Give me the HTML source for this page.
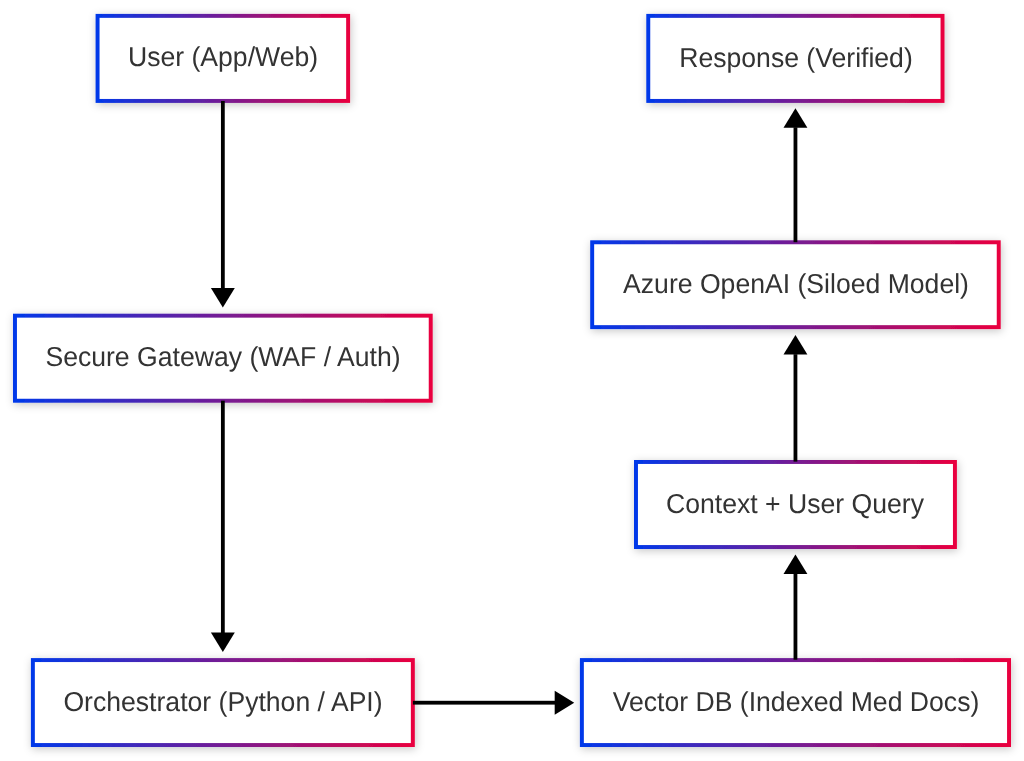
<!DOCTYPE html>
<html><head><meta charset="utf-8"><style>
html,body{margin:0;padding:0;background:#fff;}
body{width:1024px;height:761px;position:relative;overflow:hidden;}
svg{position:absolute;left:0;top:0;}
.t{position:absolute;left:0;top:0;width:0;height:0;}
.t span{position:absolute;left:0;top:0;white-space:nowrap;font-family:"Liberation Sans",sans-serif;font-size:26.6px;line-height:26.6px;color:#333;will-change:transform;text-rendering:geometricPrecision;}
</style></head>
<body>
<svg width="1024" height="761" viewBox="0 0 1024 761"><defs><linearGradient id="g0" gradientUnits="userSpaceOnUse" x1="95.6" y1="0" x2="350.1" y2="0"><stop offset="0" stop-color="#0038ea"/><stop offset="1" stop-color="#ea003e"/></linearGradient><linearGradient id="g1" gradientUnits="userSpaceOnUse" x1="13.0" y1="0" x2="432.7" y2="0"><stop offset="0" stop-color="#0038ea"/><stop offset="1" stop-color="#ea003e"/></linearGradient><linearGradient id="g2" gradientUnits="userSpaceOnUse" x1="30.9" y1="0" x2="414.8" y2="0"><stop offset="0" stop-color="#0038ea"/><stop offset="1" stop-color="#ea003e"/></linearGradient><linearGradient id="g3" gradientUnits="userSpaceOnUse" x1="579.9" y1="0" x2="1011.0" y2="0"><stop offset="0" stop-color="#0038ea"/><stop offset="1" stop-color="#ea003e"/></linearGradient><linearGradient id="g4" gradientUnits="userSpaceOnUse" x1="634.0" y1="0" x2="956.9" y2="0"><stop offset="0" stop-color="#0038ea"/><stop offset="1" stop-color="#ea003e"/></linearGradient><linearGradient id="g5" gradientUnits="userSpaceOnUse" x1="590.2" y1="0" x2="1000.7" y2="0"><stop offset="0" stop-color="#0038ea"/><stop offset="1" stop-color="#ea003e"/></linearGradient><linearGradient id="g6" gradientUnits="userSpaceOnUse" x1="646.3" y1="0" x2="944.5" y2="0"><stop offset="0" stop-color="#0038ea"/><stop offset="1" stop-color="#ea003e"/></linearGradient><filter id="sh" x="-10%" y="-30%" width="120%" height="160%"><feDropShadow dx="1" dy="2" stdDeviation="4.5" flood-color="#000" flood-opacity="0.22"/></filter></defs><rect x="97.57" y="15.88" width="250.55" height="85.05" fill="#fff" stroke="url(#g0)" stroke-width="3.95" filter="url(#sh)"/><rect x="14.97" y="315.68" width="415.75" height="85.05" fill="#fff" stroke="url(#g1)" stroke-width="3.95" filter="url(#sh)"/><rect x="32.88" y="660.08" width="379.95" height="84.95" fill="#fff" stroke="url(#g2)" stroke-width="3.95" filter="url(#sh)"/><rect x="581.88" y="660.08" width="427.15" height="84.95" fill="#fff" stroke="url(#g3)" stroke-width="3.95" filter="url(#sh)"/><rect x="635.98" y="461.98" width="318.95" height="85.05" fill="#fff" stroke="url(#g4)" stroke-width="3.95" filter="url(#sh)"/><rect x="592.18" y="242.28" width="406.55" height="84.85" fill="#fff" stroke="url(#g5)" stroke-width="3.95" filter="url(#sh)"/><rect x="648.27" y="15.88" width="294.25" height="85.05" fill="#fff" stroke="url(#g6)" stroke-width="3.95" filter="url(#sh)"/><g fill="#000"><rect x="220.95" y="101.00" width="3.8" height="188.00"/><polygon points="210.90,288.10 234.80,288.10 222.85,307.60"/><rect x="220.95" y="400.70" width="3.8" height="232.80"/><polygon points="210.90,632.60 234.80,632.60 222.85,652.10"/><rect x="412.90" y="700.80" width="142.10" height="3.8"/><polygon points="554.70,690.75 554.70,714.65 574.20,702.70"/><rect x="793.55" y="573.50" width="3.8" height="86.20"/><polygon points="783.50,574.00 807.40,574.00 795.45,554.50"/><rect x="793.55" y="354.20" width="3.8" height="107.40"/><polygon points="783.50,354.50 807.40,354.50 795.45,335.00"/><rect x="793.55" y="127.30" width="3.8" height="114.90"/><polygon points="783.50,127.80 807.40,127.80 795.45,108.30"/></g></svg>
<div class="t" style="left:223.35px;top:58.40px"><span style="transform:translate(-50%,-50%) translateY(-0.60px) scaleY(1.03)">User (App/Web)</span></div><div class="t" style="left:222.85px;top:358.20px"><span style="transform:translate(-50%,-50%) translateY(-0.60px) scaleY(1.03)">Secure Gateway (WAF / Auth)</span></div><div class="t" style="left:222.85px;top:702.55px"><span style="transform:translate(-50%,-50%) translateY(-0.60px) scaleY(1.03)">Orchestrator (Python / API)</span></div><div class="t" style="left:795.78px;top:702.55px"><span style="transform:translate(-50%,-50%) translateY(-0.60px) scaleY(1.03)">Vector DB (Indexed Med Docs)</span></div><div class="t" style="left:795.05px;top:504.50px"><span style="transform:translate(-50%,-50%) translateY(-0.60px) scaleY(1.03)">Context + User Query</span></div><div class="t" style="left:796.15px;top:284.70px"><span style="transform:translate(-50%,-50%) translateY(-0.60px) scaleY(1.03)">Azure OpenAI (Siloed Model)</span></div><div class="t" style="left:795.90px;top:58.40px"><span style="transform:translate(-50%,-50%) translateY(0.00px) scaleY(1.03)">Response (Verified)</span></div>
</body></html>
